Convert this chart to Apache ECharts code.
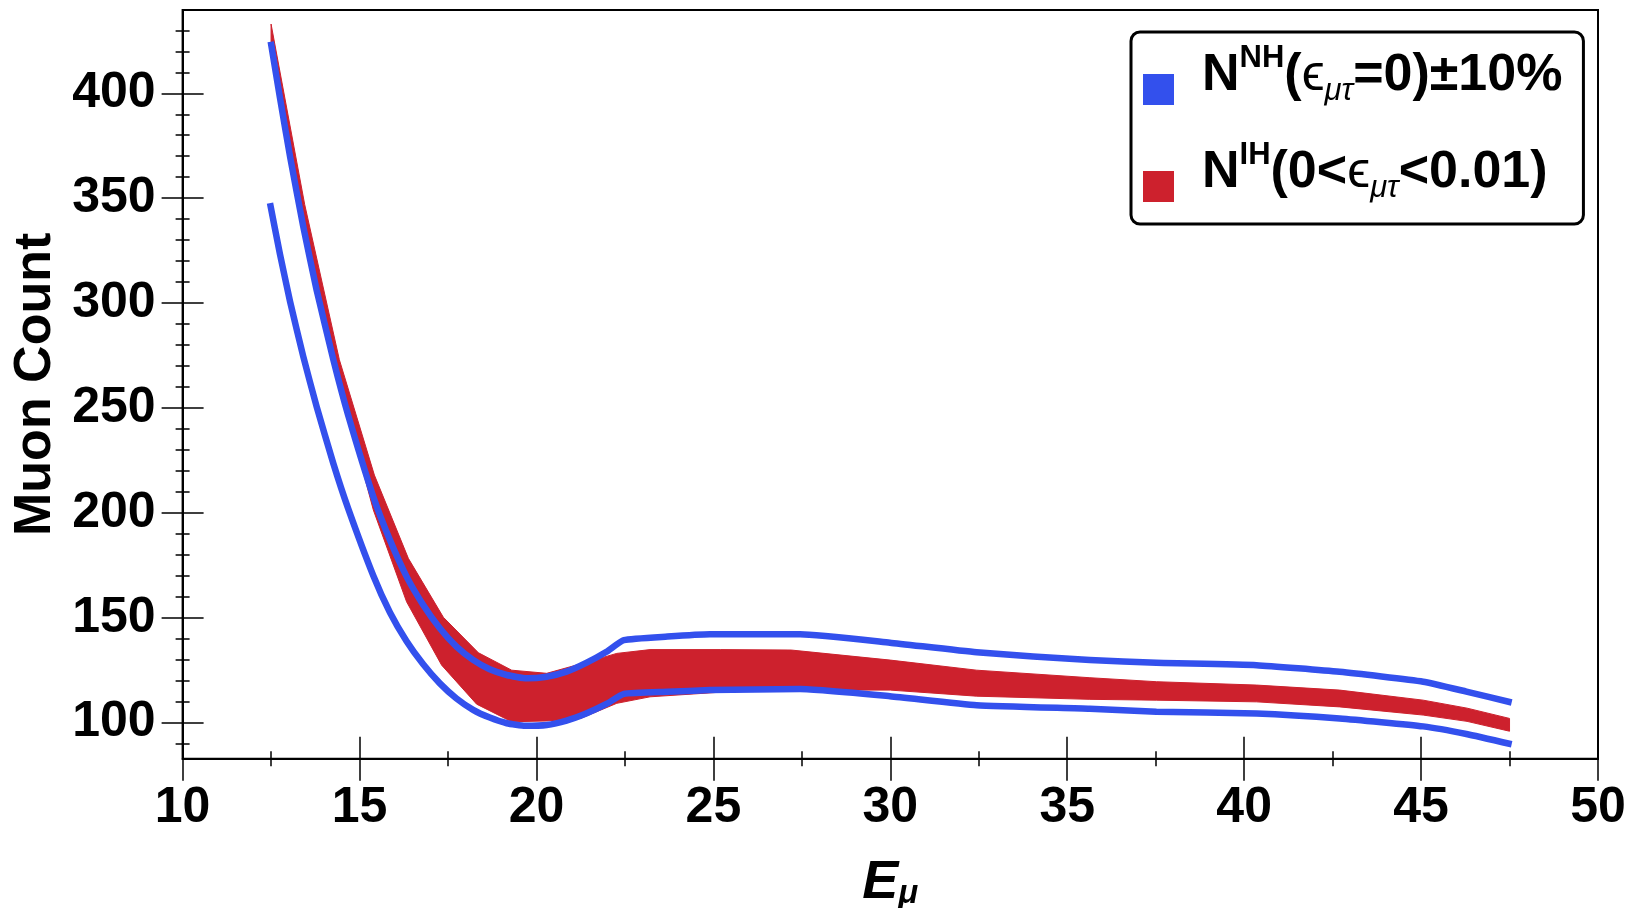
<!DOCTYPE html>
<html>
<head>
<meta charset="utf-8">
<script src="https://cdn.jsdelivr.net/npm/echarts@6/dist/echarts.min.js"></script>
<style>
  html, body { margin: 0; padding: 0; background: #fff; }
  #chart { width: 1636px; height: 908px; }
</style>
</head>
<body>
<div id="chart"></div>
<script>
// Muon event count versus muon energy: NH prediction ±10% (two blue curves)
// and the IH band for 0 < eps_mutau < 0.01 (red band).

// N^NH(eps=0) + 10%  — [E_mu, count]
const nhUpper = [
  [12.49, 424.6], [12.75, 398.0], [13.04, 369.5], [13.41, 336.4], [13.79, 306.0],
  [14.26, 273.0], [14.68, 246.5], [15.39, 207.7], [15.86, 187.0], [16.33, 169.6],
  [16.80, 156.1], [17.27, 145.0], [17.74, 136.2], [18.21, 129.9], [18.68, 125.4],
  [19.16, 122.7], [19.72, 121.1], [20.29, 121.9], [20.85, 124.3], [21.42, 128.6],
  [21.98, 133.8], [22.47, 139.3], [23.70, 141.0], [24.90, 142.1], [27.45, 142.1],
  [29.99, 138.1], [32.44, 133.5], [35.64, 129.8], [37.52, 128.5], [40.35, 127.4],
  [42.70, 124.2], [45.06, 119.5], [46.28, 114.8], [47.56, 109.6]
];

// N^NH(eps=0) - 10%
const nhLower = [
  [12.47, 347.6], [12.75, 323.5], [13.04, 300.5], [13.41, 274.5], [13.79, 250.5],
  [14.26, 223.5], [14.68, 202.0], [15.39, 170.0], [15.86, 152.5], [16.33, 138.8],
  [16.80, 127.8], [17.27, 118.7], [17.74, 111.5], [18.21, 106.1], [18.68, 102.4],
  [19.16, 99.7], [19.68, 98.5], [20.29, 98.9], [20.85, 101.0], [21.42, 104.5],
  [21.98, 108.9], [22.47, 113.7], [23.70, 114.7], [24.90, 115.5], [27.45, 116.0],
  [29.99, 112.6], [32.44, 108.3], [35.64, 106.6], [37.52, 105.2], [40.35, 104.4],
  [42.70, 102.0], [45.06, 98.2], [46.28, 94.6], [47.56, 89.7]
];

// N^IH band, upper edge
const ihUpper = [
  [12.50, 433.0], [13.45, 347.0], [14.43, 273.0], [15.42, 218.0], [16.38, 178.3],
  [17.37, 150.2], [18.36, 133.3], [19.30, 125.0], [20.29, 123.5], [21.25, 128.0],
  [22.27, 133.0], [23.21, 134.8], [25.20, 134.8], [27.20, 134.6], [30.00, 129.8],
  [32.44, 125.0], [35.64, 121.4], [37.52, 119.5], [40.35, 117.9], [42.70, 115.5],
  [45.06, 110.7], [46.30, 106.9], [47.50, 102.0]
];

// N^IH band, lower edge
const ihLower = [
  [12.50, 424.0], [13.45, 334.0], [14.43, 262.0], [15.39, 201.4], [16.33, 157.6],
  [17.32, 127.4], [18.31, 108.8], [19.30, 100.4], [20.29, 100.8], [21.25, 102.0],
  [22.27, 109.2], [23.21, 112.3], [25.20, 114.5], [27.20, 115.5], [30.00, 115.5],
  [32.44, 112.6], [35.64, 111.1], [37.52, 110.7], [40.35, 109.9], [42.70, 107.5],
  [45.06, 103.6], [46.30, 100.6], [47.50, 95.9]
];

// Axis ticks
const xMajorTicks = [10, 15, 20, 25, 30, 35, 40, 45, 50];
const xMinorTicks = [12.5, 17.5, 22.5, 27.5, 32.5, 37.5, 42.5, 47.5];
const yMajorTicks = [100, 150, 200, 250, 300, 350, 400];
const yMinorTicks = [90, 100, 110, 120, 130, 140, 150, 160, 170, 180, 190, 200, 210, 220,
  230, 240, 250, 260, 270, 280, 290, 300, 310, 320, 330, 340, 350, 360, 370, 380, 390,
  400, 410, 420, 430];
const xRange = [10, 50];
const yRange = [82.8, 439.7];

// Texts
const yTitle = 'Muon Count';
const xTitle = '{e|E}{mu|μ}';
const legendLabels = {
  NH: '{n|N}{sup|NH}{m|(}{g|ϵ}{sub|μτ}{m|=0)±10%}',
  IH: '{n|N}{sup|IH}{m|(0<}{g|ϵ}{sub|μτ}{m|<0.01)}'
};

const BLUE = '#3350ED';
const RED = '#CD212D';
const FONT = '"Liberation Sans", Arial, Helvetica, sans-serif';

function xLayer(ticks, len, inside, main) {
  const ax = {
    type: 'value', gridIndex: 0, position: 'bottom',
    min: xRange[0], max: xRange[1],
    axisLine: { show: main, onZero: false, lineStyle: { color: '#000', width: 2 } },
    axisTick: { show: true, inside: inside, length: len, customValues: ticks,
      lineStyle: { color: '#000', width: 1.5 } },
    axisLabel: { show: false },
    splitLine: { show: false }
  };
  if (main) {
    ax.axisLabel = {
      show: true, customValues: xMajorTicks, margin: 25,
      fontSize: 50, fontWeight: 'bold', fontFamily: FONT, color: '#000'
    };
    ax.name = xTitle;
    ax.nameLocation = 'middle';
    ax.nameGap = 104;
    ax.nameTextStyle = {
      rich: {
        e: { fontSize: 54, fontWeight: 'bold', fontStyle: 'italic', fontFamily: FONT,
             color: '#000', lineHeight: 40 },
        mu: { fontSize: 33, fontWeight: 'bold', fontStyle: 'italic', fontFamily: FONT,
              color: '#000', lineHeight: 24, padding: [23, 0, 0, 0] }
      }
    };
  }
  return ax;
}

function yLayer(ticks, len, inside, main) {
  const ax = {
    type: 'value', gridIndex: 0, position: 'left',
    min: yRange[0], max: yRange[1],
    axisLine: { show: main, onZero: false, lineStyle: { color: '#000', width: 2 } },
    axisTick: { show: true, inside: inside, length: len, customValues: ticks,
      lineStyle: { color: '#000', width: 1.5 } },
    axisLabel: { show: false },
    splitLine: { show: false }
  };
  if (main) {
    ax.axisLabel = {
      show: true, customValues: yMajorTicks, margin: 27,
      fontSize: 50, fontWeight: 'bold', fontFamily: FONT, color: '#000'
    };
    ax.name = yTitle;
    ax.nameLocation = 'middle';
    ax.nameGap = 109;
    ax.nameTextStyle = { fontSize: 52, fontWeight: 'bold', fontFamily: FONT, color: '#000' };
  }
  return ax;
}

// Legend text pieces: everything middle-aligned, shifted with padding
const legendRich = {
  n: { fontSize: 52, fontWeight: 'bold', fontFamily: FONT, color: '#000',
       height: 10, lineHeight: 40, padding: [0, 0, 27, 23] },
  m: { fontSize: 52, fontWeight: 'bold', fontFamily: FONT, color: '#000',
       height: 10, lineHeight: 40, padding: [0, 0, 27, 0] },
  g: { fontSize: 52, fontWeight: 'normal', fontFamily: FONT, color: '#000',
       height: 10, lineHeight: 40, padding: [0, 0, 27, 0] },
  sup: { fontSize: 31, fontWeight: 'bold', fontFamily: FONT, color: '#000',
         height: 4, lineHeight: 40, padding: [0, 0, 63, 0] },
  sub: { fontSize: 31, fontWeight: 'normal', fontStyle: 'italic', fontFamily: FONT,
         color: '#000', height: 4, lineHeight: 40, padding: [4, 0, 0, 0] }
};

const chart = echarts.init(document.getElementById('chart'), null, { renderer: 'canvas' });

chart.setOption({
  animation: false,
  backgroundColor: '#fff',
  grid: {
    left: 182.6, right: 38, top: 10, bottom: 149.3,
    show: true, borderColor: '#000', borderWidth: 2,
    outerBoundsMode: 'none'
  },
  xAxis: [
    xLayer(xMajorTicks, 22, false, true),
    xLayer(xMajorTicks, 22, true, false),
    xLayer(xMinorTicks, 7.5, false, false),
    xLayer(xMinorTicks, 7.5, true, false)
  ],
  yAxis: [
    yLayer(yMajorTicks, 21, false, true),
    yLayer(yMajorTicks, 21, true, false),
    yLayer(yMinorTicks, 7, false, false),
    yLayer(yMinorTicks, 7, true, false)
  ],
  legend: {
    orient: 'vertical',
    left: 1131, top: 32,
    padding: [10.5, 21, 4, 12],
    itemGap: 16.5,
    itemWidth: 31, itemHeight: 31,
    icon: 'rect',
    itemStyle: { borderWidth: 0 },
    backgroundColor: '#fff',
    borderColor: '#000', borderWidth: 3, borderRadius: 9,
    selectedMode: false,
    data: ['NH', 'IH'],
    formatter: function (name) { return legendLabels[name]; },
    textStyle: { color: '#000', fontFamily: FONT, rich: legendRich }
  },
  series: [
    {
      name: 'IH',
      type: 'custom',
      coordinateSystem: 'cartesian2d',
      xAxisIndex: 0, yAxisIndex: 0,
      data: ihUpper,
      itemStyle: { color: RED },
      z: 2,
      silent: true,
      renderItem: function (params, api) {
        if (params.dataIndex !== 0) return null;
        const edge = ihUpper.concat(ihLower.slice().reverse());
        return {
          type: 'polygon',
          shape: { points: edge.map(function (p) { return api.coord(p); }) },
          style: { fill: RED, stroke: RED, lineWidth: 1 }
        };
      }
    },
    {
      name: 'NH',
      type: 'line',
      xAxisIndex: 0, yAxisIndex: 0,
      data: nhUpper,
      showSymbol: false, symbol: 'none',
      smooth: 0.15,
      itemStyle: { color: BLUE },
      lineStyle: { color: BLUE, width: 6.5, cap: 'butt', join: 'round' },
      z: 3, silent: true
    },
    {
      name: 'NH',
      type: 'line',
      xAxisIndex: 0, yAxisIndex: 0,
      data: nhLower,
      showSymbol: false, symbol: 'none',
      smooth: 0.15,
      itemStyle: { color: BLUE },
      lineStyle: { color: BLUE, width: 6.5, cap: 'butt', join: 'round' },
      z: 3, silent: true
    }
  ]
});
</script>
</body>
</html>
